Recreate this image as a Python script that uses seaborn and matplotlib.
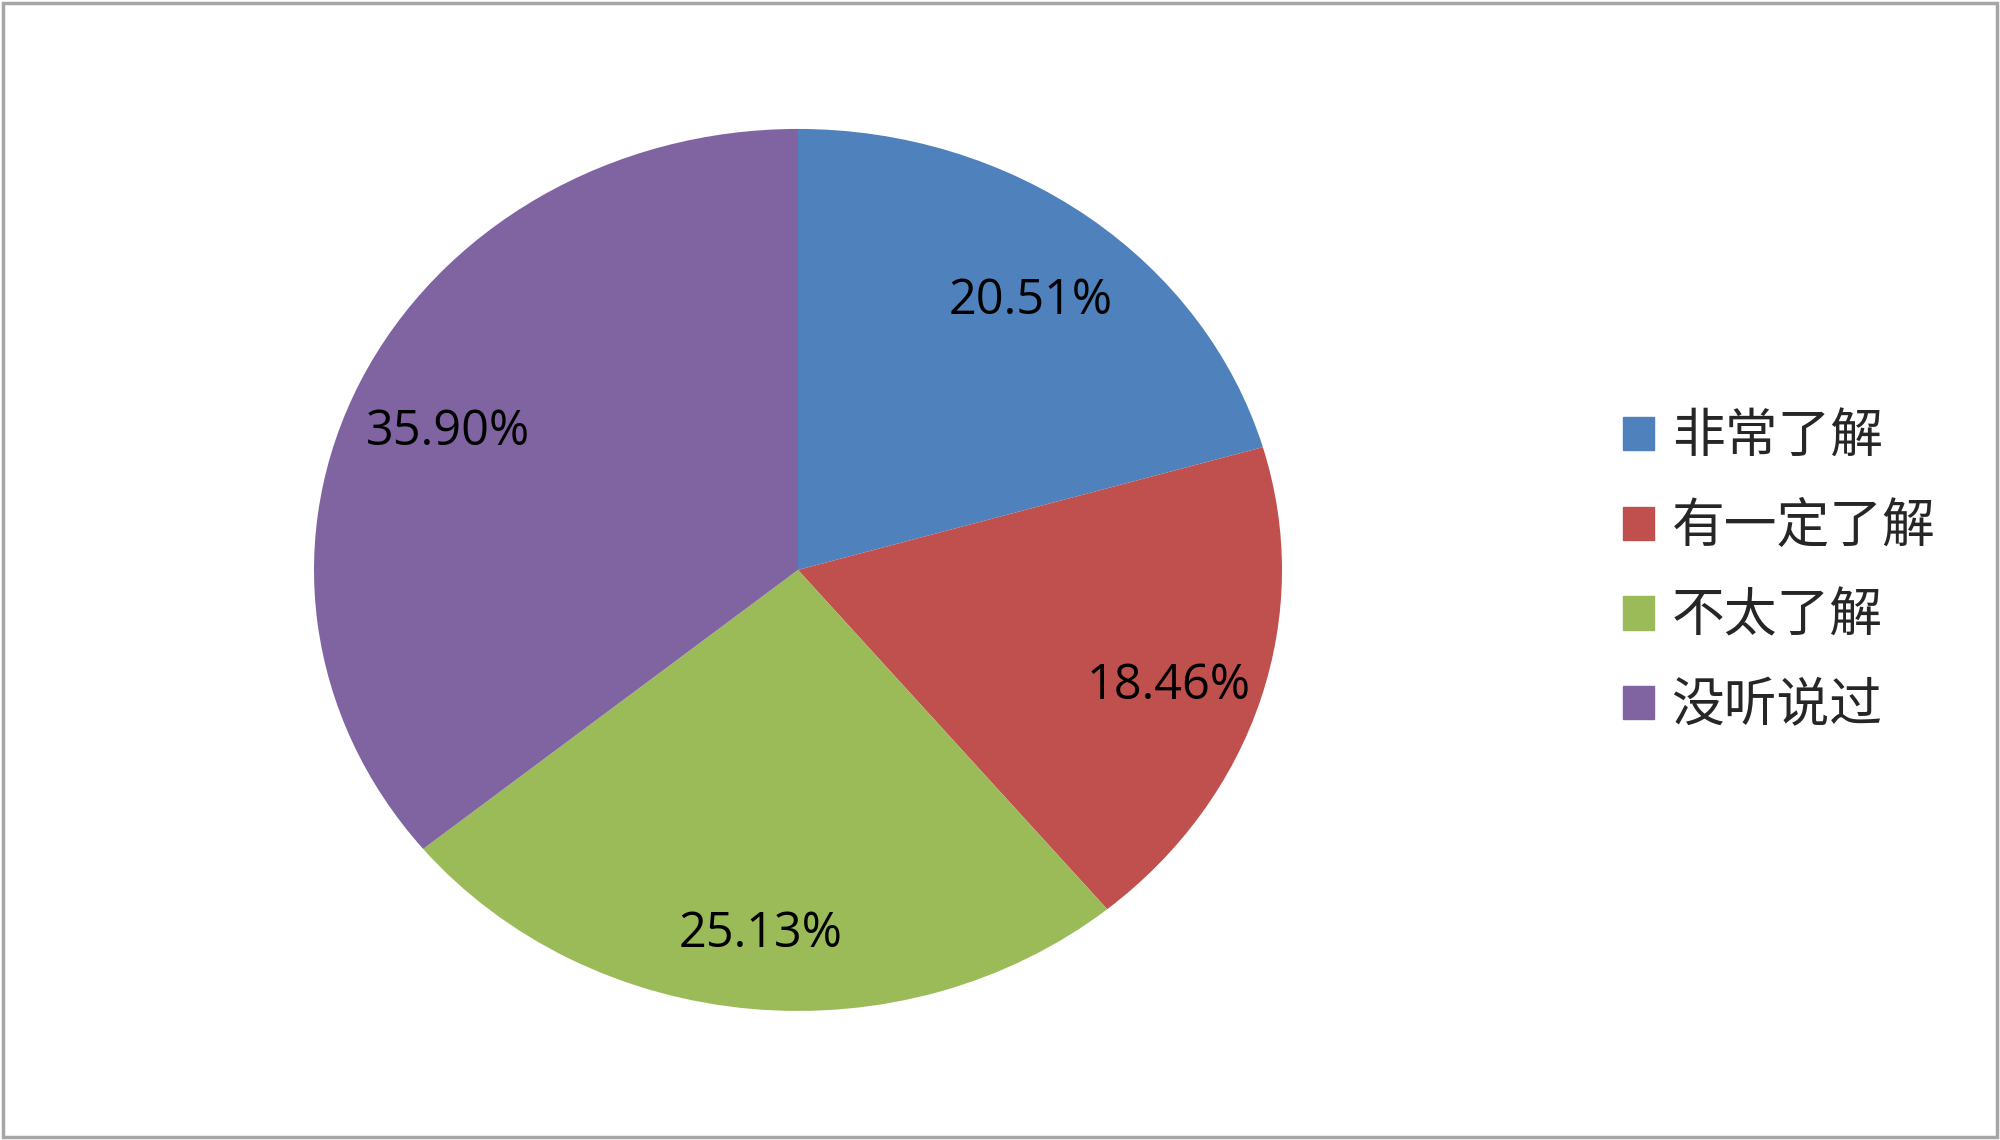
import matplotlib
matplotlib.use("Agg")
import matplotlib.pyplot as plt
import matplotlib.patches as mpatches
import seaborn as sns

# data
categories = ['非常了解', '有一定了解', '不太了解', '没听说过']
shares = [20.51, 18.46, 25.13, 35.90]
colors = ['#4F81BD', '#C0504D', '#9BBB59', '#8064A2']

sns.set_theme(style='white')
plt.rcParams['font.family'] = ['Noto Sans CJK SC', 'DejaVu Sans']

fig = plt.figure(figsize=(20, 11.4), dpi=100)
fig.patch.set_facecolor('white')

# pie is stretched horizontally, so aspect is left on auto
ax = fig.add_axes([0.157, 0.1132, 0.484, 0.7737])
wedges, texts, autotexts = ax.pie(
    shares, colors=colors, startangle=90, counterclock=False,
    autopct='%.2f%%', pctdistance=0.8, radius=1,
    wedgeprops=dict(linewidth=0),
    textprops=dict(fontsize=35, color='black', family=['Open Sans', 'DejaVu Sans']))
# nudge the percentage labels a little lower, like the original
for t in autotexts:
    x, y = t.get_position()
    t.set_position((x, y - 0.03))
ax.set_xlim(-1, 1)
ax.set_ylim(-1, 1)
ax.set_aspect('auto')
ax.axis('off')

# legend with square markers
handles = [mpatches.Patch(color=c, label=l) for c, l in zip(colors, categories)]
fig.legend(handles=handles, loc='center left', bbox_to_anchor=(0.8115, 0.499),
           frameon=False, fontsize=38, handlelength=0.59, handleheight=0.59,
           handletextpad=0.33, labelspacing=0.66, borderpad=0, borderaxespad=0)

# outer chart border
fig.patches.append(mpatches.Rectangle((0.0015, 0.0025), 0.997, 0.995, transform=fig.transFigure,
                                      fill=False, edgecolor='#A6A6A6', linewidth=2.5))

fig.savefig('out.png', dpi=100)
